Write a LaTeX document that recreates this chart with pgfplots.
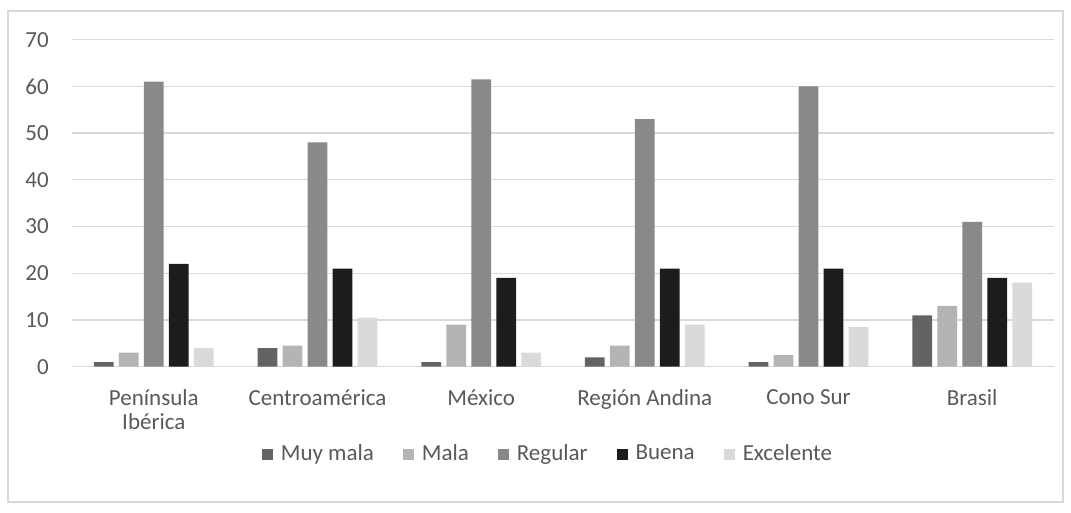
\documentclass[border=0pt]{standalone}
\usepackage{pgfplots}
\pgfplotsset{compat=1.18}
\usepackage{fontspec}
\setmainfont{Carlito}
\definecolor{cMuy}{HTML}{636363}
\definecolor{cMala}{HTML}{B4B4B4}
\definecolor{cReg}{HTML}{898989}
\definecolor{cBue}{HTML}{1C1C1C}
\definecolor{cExc}{HTML}{DADADA}
\definecolor{gridgray}{HTML}{D9D9D9}
\definecolor{labelgray}{HTML}{595959}
\begin{document}
\fontsize{23}{28}\selectfont
\begin{tikzpicture}[x=1pt,y=1pt]
\useasboundingbox (-72,-145.3) rectangle (999,366.7);
\draw[gridgray, line width=1.3pt] (-64,-135.3) rectangle (991,355.7);
\begin{axis}[
  at={(0,0)}, anchor=south west,
  width=982pt, height=327pt, scale only axis,
  xmin=-0.5, xmax=5.5, ymin=0, ymax=70,
  ytick={0,10,...,70},
  xtick={0,1,2,3,4,5},
  xticklabels={{Península\\[-4pt]Ibérica},Centroamérica,México,Región Andina,Cono Sur,Brasil},
  /pgf/number format/assume math mode=true,
  tick label style={text=labelgray, font=\fontsize{23}{28}\selectfont},
  xticklabel style={align=center, anchor=north, inner sep=0pt, yshift=-23pt},
  yticklabel style={anchor=east, inner sep=0pt, xshift=-23pt},
  major tick length=0pt,
  ymajorgrids, grid style={gridgray, line width=1.3pt},
  axis lines*=left,
  y axis line style={draw=none},
  x axis line style={gridgray, line width=1.3pt},
  ybar=5.3pt, bar width=19.7pt,
  legend columns=5,
  legend style={draw=none, fill=none, at={(0.4847,-0.267)}, anchor=center,
    font=\fontsize{23}{28}\selectfont, text=labelgray,
    /tikz/every even column/.append style={column sep=27pt},
    /tikz/every odd column/.append style={column sep=6pt},
    nodes={inner sep=2pt}},
  legend image code/.code={\fill[#1] (0pt,-5.5pt) rectangle (11pt,5.5pt);},
]
\addplot[fill=cMuy, draw=none] coordinates {(0,1) (1,4) (2,1) (3,2) (4,1) (5,11)};
\addplot[fill=cMala, draw=none] coordinates {(0,3) (1,4.5) (2,9) (3,4.5) (4,2.5) (5,13)};
\addplot[fill=cReg, draw=none] coordinates {(0,61) (1,48) (2,61.5) (3,53) (4,60) (5,31)};
\addplot[fill=cBue, draw=none] coordinates {(0,22) (1,21) (2,19) (3,21) (4,21) (5,19)};
\addplot[fill=cExc, draw=none] coordinates {(0,4) (1,10.5) (2,3) (3,9) (4,8.5) (5,18)};
\legend{Muy mala, Mala, Regular, Buena, Excelente}
\end{axis}
\end{tikzpicture}
\end{document}
